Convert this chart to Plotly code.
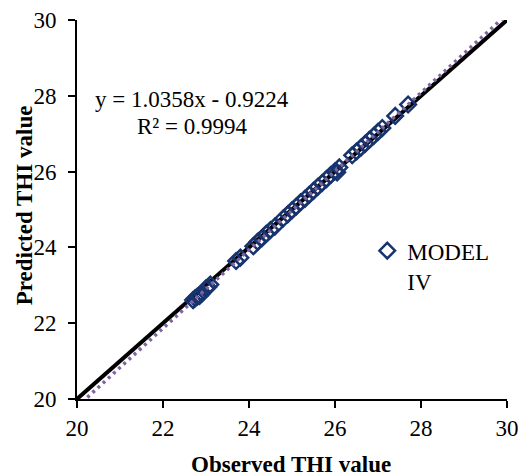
import plotly.graph_objects as go

# Observed vs predicted THI values (MODEL IV)
observed = [22.7, 22.75, 22.8, 22.85, 22.9, 23.0, 23.05, 23.1, 23.7, 23.8, 24.1, 24.2, 24.3, 24.4, 24.5,
            24.6, 24.8, 24.9, 25.0, 25.1, 25.2, 25.3, 25.4, 25.5, 25.6, 25.7, 25.8,
            25.9, 26.0, 26.05, 26.1, 26.4, 26.5, 26.6, 26.7, 26.8, 26.9, 27.0, 27.1,
            27.4, 27.7]
predicted = [22.61, 22.66, 22.70, 22.72, 22.78, 22.92, 22.95, 23.02, 23.64, 23.73, 24.03, 24.15, 24.24, 24.36, 24.46,
             24.55, 24.77, 24.87, 24.98, 25.08, 25.19, 25.28, 25.39, 25.49, 25.60, 25.70, 25.80,
             25.91, 26.01, 25.98, 26.11, 26.43, 26.53, 26.63, 26.73, 26.84, 26.94, 27.05, 27.15,
             27.47, 27.77]

# 1:1 reference line and linear trend (y = 1.0358x - 0.9224)
ref_x = [20, 30]
ref_y = [20, 30]
slope = 1.0358
intercept = -0.9224
trend_x = [20, 30]
trend_y = [slope * v + intercept for v in trend_x]

axis_ticks = [20, 22, 24, 26, 28, 30]
font_family = "Times New Roman, Liberation Serif, serif"
fs = 23

fig = go.Figure()
fig.add_trace(go.Scatter(x=ref_x, y=ref_y, mode="lines",
                         line=dict(color="black", width=4), showlegend=False,
                         hoverinfo="skip"))
fig.add_trace(go.Scatter(x=observed, y=predicted, mode="markers", name="MODEL<br>IV",
                         marker=dict(symbol="diamond-open", size=12, color="#17346F",
                                     line=dict(width=2.5, color="#17346F"))))
fig.add_trace(go.Scatter(x=trend_x, y=trend_y, mode="lines",
                         line=dict(color="#8064A2", width=3.5, dash="3px,4px"), showlegend=False,
                         hoverinfo="skip"))

axis_common = dict(range=[20, 30], tickvals=axis_ticks, ticks="outside", ticklen=7,
                   tickwidth=2, tickcolor="black", showline=True, linecolor="black",
                   linewidth=2, showgrid=False, zeroline=False, automargin=False,
                   tickfont=dict(family=font_family, size=fs, color="black"))
fig.update_xaxes(**axis_common, ticklabelstandoff=0)
fig.update_yaxes(**axis_common, ticklabelstandoff=7)

fig.update_layout(
    width=526, height=476,
    margin=dict(l=77, r=19, t=20, b=77, autoexpand=False),
    paper_bgcolor="white", plot_bgcolor="white",
    font=dict(family=font_family, size=fs, color="black"),
    legend=dict(x=0.675, y=0.448, xanchor="left", yanchor="top", valign="top",
                font=dict(family=font_family, size=fs, color="black"),
                bgcolor="rgba(0,0,0,0)", itemwidth=30),
    annotations=[
        dict(text="y = 1.0358x - 0.9224", x=22.67, y=27.89, xref="x", yref="y",
             showarrow=False, font=dict(size=fs)),
        dict(text="R² = 0.9994", x=22.67, y=27.18, xref="x", yref="y",
             showarrow=False, font=dict(size=fs)),
        dict(text="<b>Observed THI value</b>", x=0.498, y=-0.174, xref="paper", yref="paper",
             xanchor="center", yanchor="middle", showarrow=False, font=dict(size=fs)),
        dict(text="<b>Predicted THI value</b>", x=-0.12, y=0.512, xref="paper", yref="paper",
             xanchor="center", yanchor="middle", showarrow=False, textangle=-90,
             font=dict(size=fs)),
    ],
)

fig.write_html("out.html")
